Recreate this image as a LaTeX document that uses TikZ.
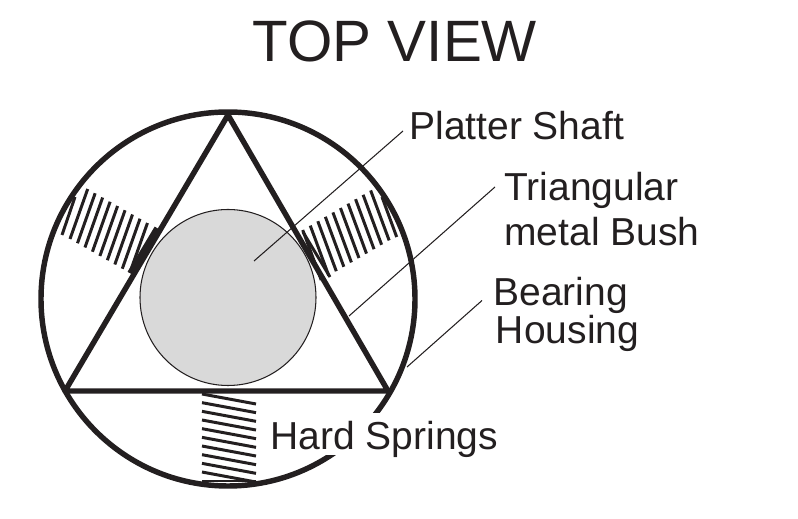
\documentclass[tikz,border=0pt]{standalone}
\usepackage{fontspec}
\setmainfont{Liberation Sans}
\definecolor{ink}{HTML}{231F20}
\tikzstyle{heading} = [font=\fontsize{33.2}{36}\selectfont, inner sep=0pt, text=ink]
\tikzstyle{partname} = [font=\fontsize{22.2}{26}\selectfont, inner sep=0pt, align=left, text=ink]
\tikzstyle{outline} = [line width=3.1pt, draw=ink]
\tikzstyle{coil} = [line width=1.7pt, draw=ink]
\tikzstyle{leader} = [line width=0.6pt, draw=ink]
\begin{document}
\begin{tikzpicture}[x=0.02cm, y=-0.02cm]
		\useasboundingbox (0,0) rectangle (798,519);

		\node (title) [heading, anchor=base] at (395,62) {TOP VIEW};
		\node (platter) [partname, anchor=base west] at (409,140) {Platter Shaft};
		\node (bush) [partname, anchor=base west] at (504,246) {Triangular\\metal Bush};
		\node (housing) [partname, anchor=base west, font=\fontsize{22.2}{20}\selectfont] at (493,343.5) {Bearing\\\hspace*{1.5pt}Housing};

		\coordinate (apex) at (228,115);
		\coordinate (baseleft) at (65,391);
		\coordinate (baseright) at (388,391);
		\coordinate (shaftpoint) at (254,261);
		\coordinate (bushpoint) at (349,316);
		\coordinate (housingpoint) at (407,367);

		\draw [line width=0.6pt, draw=ink, fill=black!15] (228,297.5) circle (88);
		\draw [outline] (228,299) circle (187);
		\draw [outline, line join=round] (apex) -- (baseleft) -- (baseright) -- cycle;

		% left spring
		\foreach \i in {0,...,8}
			\draw [coil] ({70+7.47*\i},{239+4.25*\i}) -- ++(17.7,-50);
		\draw [coil] (62,235) -- (75,197);
		\draw [outline] (130,273) -- (157,228);

		% right spring
		\foreach \i in {0,...,9}
			\draw [coil] ({302.7+7.55*\i},{230-4.4*\i}) -- ++(18.5,50);
		\draw [coil] (382,197) -- (396.7,237);
		\draw [coil] (303,232) -- (330,277);

		% bottom spring
		\foreach \i in {0,...,9}
			\draw [coil] (202,{394+8.67*\i}) -- (256,{404+8.67*\i});
		\draw [coil] (202,481) -- (256,481);

		% white box of this label hides the housing behind it
		\node (springs) [partname, anchor=base west, fill=white, text height=21pt, text depth=2.8pt] at (270,450) {Hard Springs};

		\draw [leader] (shaftpoint) -- ([shift={(-6,-9)}]platter.base west);
		\draw [leader] (bushpoint) -- ([shift={(-9,-59)}]bush.base west);
		\draw [leader] (housingpoint) -- ([shift={(-11,-43)}]housing.base west);
	\end{tikzpicture}
\end{document}
